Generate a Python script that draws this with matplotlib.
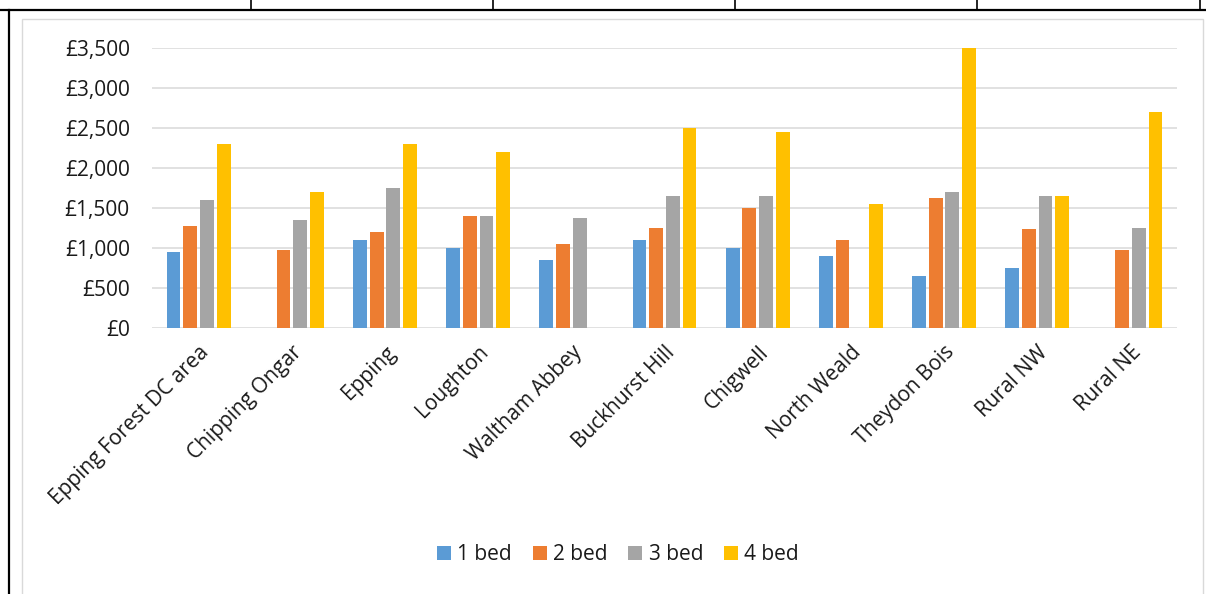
import numpy as np
import matplotlib.pyplot as plt
from matplotlib.lines import Line2D
from matplotlib.patches import Rectangle
from matplotlib.ticker import FuncFormatter

# dane (NaN = brak slupka)
areas = ["Epping Forest DC area", "Chipping Ongar", "Epping", "Loughton", "Waltham Abbey",
         "Buckhurst Hill", "Chigwell", "North Weald", "Theydon Bois", "Rural NW", "Rural NE"]
bed1 = [950, np.nan, 1100, 1000, 850, 1100, 1000, 900, 650, 750, np.nan]
bed2 = [1275, 975, 1200, 1400, 1050, 1250, 1500, 1100, 1625, 1240, 975]
bed3 = [1600, 1350, 1750, 1400, 1375, 1650, 1650, np.nan, 1700, 1650, 1250]
bed4 = [2300, 1700, 2300, 2200, np.nan, 2500, 2450, 1550, 3500, 1650, 2700]
series_names = ["1 bed", "2 bed", "3 bed", "4 bed"]
colors = ["#5b9bd5", "#ed7d31", "#a5a5a5", "#ffc000"]

W, H = 1206, 594
plt.rcParams['font.family'] = ['Open Sans', 'DejaVu Sans']
fig = plt.figure(figsize=(W / 100, H / 100), dpi=100)

def px(x, y):
    return x / W, 1 - y / H

# ramki tabeli (wiersz nad wykresem) i ramka obszaru wykresu
fig.add_artist(Line2D([0, 1], [1 - 10 / H] * 2, transform=fig.transFigure, color="black", lw=1.6))
fig.add_artist(Line2D([9 / W] * 2, [0, 1 - 10 / H], transform=fig.transFigure, color="black", lw=1.6))
for xv in [251, 493, 735, 977, 1200]:
    fig.add_artist(Line2D([xv / W] * 2, [1 - 10 / H, 1], transform=fig.transFigure, color="black", lw=1.2))
fig.add_artist(Rectangle(px(22, 600), (1203 - 22) / W, (600 - 19) / H, transform=fig.transFigure,
                         fill=False, edgecolor="#d9d9d9", lw=1.0))

left, right, top, bottom = 152, 1177, 48, 328
ax = fig.add_axes([left / W, 1 - bottom / H, (right - left) / W, (bottom - top) / H])

x = np.arange(len(areas))
step = 0.179
bw = 0.148
for i, (vals, name, c) in enumerate(zip([bed1, bed2, bed3, bed4], series_names, colors)):
    ax.bar(x + (i - 1.5) * step, vals, width=bw, color=c, label=name, zorder=3)

ax.set_xlim(-0.5, len(areas) - 0.5)
ax.set_ylim(0, 3500)
ax.set_yticks(np.arange(0, 3501, 500))
ax.yaxis.set_major_formatter(FuncFormatter(lambda v, p: f"£{v:,.0f}"))
ax.grid(axis="y", color="#d9d9d9", lw=1.1, zorder=0)
for s in ax.spines.values():
    s.set_visible(False)
ax.tick_params(axis="y", length=0, pad=16, labelsize=15, labelcolor="#1a1a1a")
ax.tick_params(axis="x", length=0, pad=10)
ax.set_xticks(x)
ax.set_xticklabels(areas, rotation=45, ha="right", rotation_mode="anchor", fontsize=15, color="#1a1a1a")

leg = fig.legend(loc="center", bbox_to_anchor=px(618, 555), ncol=4, frameon=False, fontsize=15,
                 handlelength=0.67, handleheight=0.67, handletextpad=0.3, columnspacing=1.0)
for t in leg.get_texts():
    t.set_color("#1a1a1a")

fig.savefig("out.png", dpi=100)
